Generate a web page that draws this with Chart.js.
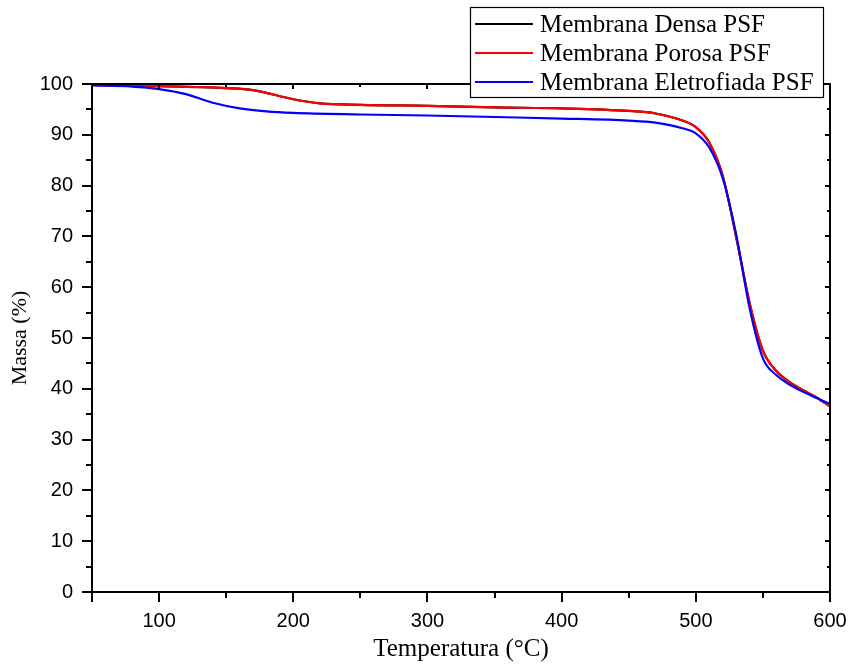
<!DOCTYPE html>
<html>
<head>
<meta charset="utf-8">
<script src="https://cdn.jsdelivr.net/npm/chart.js@4/dist/chart.umd.min.js"></script>
<style>
  html, body { margin: 0; padding: 0; background: #fff; }
  #wrap { width: 851px; height: 664px; position: relative; }
</style>
</head>
<body>
<div id="wrap"><canvas id="myChart" width="851" height="664"></canvas></div>
<script>
// series (temperature in °C, mass in %)
const tempDensa = [50, 100, 150, 170, 200, 220, 250, 300, 350, 400, 450, 470, 490, 500, 510, 520, 530, 540, 550, 560, 570, 580, 590, 600];
const massaDensa = [99.8, 99.6, 99.2, 98.8, 97.0, 96.2, 95.9, 95.7, 95.4, 95.2, 94.7, 94.2, 92.8, 91.5, 88.5, 82.0, 70.0, 57.0, 47.5, 43.5, 41.3, 39.7, 38.3, 36.5];

const tempPorosa = [50, 100, 150, 170, 200, 220, 250, 300, 350, 400, 450, 470, 490, 500, 510, 520, 530, 540, 550, 560, 570, 580, 590, 600];
const massaPorosa = [99.8, 99.6, 99.2, 98.8, 97.0, 96.2, 95.9, 95.7, 95.4, 95.2, 94.7, 94.2, 92.8, 91.5, 88.5, 82.0, 70.0, 57.0, 47.5, 43.5, 41.3, 39.7, 38.3, 36.5];

const tempEletro = [50, 80, 100, 120, 140, 160, 180, 200, 250, 300, 350, 400, 450, 470, 490, 500, 510, 520, 530, 540, 550, 560, 570, 580, 590, 600];
const massaEletro = [99.7, 99.5, 99.0, 98.0, 96.3, 95.2, 94.6, 94.3, 94.0, 93.8, 93.5, 93.2, 92.8, 92.4, 91.3, 90.3, 87.5, 81.5, 70.5, 56.0, 46.0, 42.7, 40.8, 39.4, 38.2, 37.0];

const labels = ['Membrana Densa PSF', 'Membrana Porosa PSF', 'Membrana Eletrofiada PSF'];
const colors = ['#000000', '#ff0000', '#0000ff'];

const toPoints = (xs, ys) => xs.map((x, i) => ({ x, y: ys[i] }));

const frame = {
  id: 'frame',
  afterDatasetsDraw(chart) {
    const { ctx, chartArea: a, scales: { x, y } } = chart;
    ctx.save();
    ctx.strokeStyle = '#000';
    ctx.lineWidth = 2;
    ctx.strokeRect(a.left, a.top, a.right - a.left, a.bottom - a.top);
    ctx.beginPath();
    y.ticks.forEach(t => {
      const p = Math.round(y.getPixelForValue(t.value));
      const major = t.value % 10 === 0;
      ctx.moveTo(a.left, p); ctx.lineTo(a.left - (major ? 10 : 6), p);
      ctx.moveTo(a.right, p); ctx.lineTo(a.right - (major ? 5 : 3), p);
    });
    x.ticks.forEach(t => {
      const p = Math.round(x.getPixelForValue(t.value));
      const major = t.value % 100 === 0 || t.value === 50;
      ctx.moveTo(p, a.bottom); ctx.lineTo(p, a.bottom + (major ? 10 : 6));
      ctx.moveTo(p, a.top); ctx.lineTo(p, a.top + (major ? 5 : 3));
    });
    ctx.stroke();
    ctx.restore();
  },
  afterDraw(chart) {
    const { ctx } = chart;
    ctx.save();
    ctx.fillStyle = '#fff';
    ctx.fillRect(470, 7, 353, 90);
    ctx.strokeStyle = '#000';
    ctx.lineWidth = 1.2;
    ctx.strokeRect(470.5, 7.5, 353, 90);
    ctx.font = '25px "Liberation Serif", "Times New Roman", serif';
    ctx.textBaseline = 'middle';
    ctx.fillStyle = '#000';
    const rows = [24, 53, 82];
    // legend rows in drawing order of the labels array
    labels.forEach((lab, i) => {
      ctx.strokeStyle = colors[i];
      ctx.lineWidth = 2;
      ctx.beginPath();
      ctx.moveTo(475, rows[i]); ctx.lineTo(533, rows[i]);
      ctx.stroke();
      ctx.fillText(lab, 540, rows[i] + 1);
    });
    ctx.restore();
  }
};

new Chart(document.getElementById('myChart').getContext('2d'), {
  type: 'line',
  data: {
    datasets: [
      { label: labels[0], data: toPoints(tempDensa, massaDensa), borderColor: colors[0], order: 3 },
      { label: labels[1], data: toPoints(tempPorosa, massaPorosa), borderColor: colors[1], order: 2 },
      { label: labels[2], data: toPoints(tempEletro, massaEletro), borderColor: colors[2], order: 1 },
    ].map(d => ({ ...d, borderWidth: 2.2, pointRadius: 0, fill: false, cubicInterpolationMode: 'monotone' })),
  },
  options: {
    responsive: false,
    animation: false,
    layout: { padding: { left: 0, top: 84, right: 21, bottom: 0 } },
    plugins: { legend: { display: false }, tooltip: { enabled: false } },
    scales: {
      x: {
        type: 'linear',
        min: 50, max: 600,
        afterFit: s => { s.height = 72; s.paddingRight = 0; s.paddingLeft = 0; },
        afterBuildTicks: s => { s.ticks = []; for (let v = 50; v <= 600; v += 50) s.ticks.push({ value: v }); },
        grid: { display: false, drawTicks: false },
        border: { display: false },
        ticks: {
          autoSkip: false, maxRotation: 0, padding: 17, color: '#000',
          font: { family: '"Liberation Sans", Arial, sans-serif', size: 20 },
          callback: v => (v % 100 === 0 ? String(v) : ''),
        },
        title: {
          display: true, text: 'Temperatura (°C)', color: '#000', padding: { top: 0, bottom: 0 },
          font: { family: '"Liberation Serif", "Times New Roman", serif', size: 25 },
        },
      },
      y: {
        min: 0, max: 100,
        afterFit: s => { s.width = 92; s.paddingTop = 0; s.paddingBottom = 0; },
        afterBuildTicks: s => { s.ticks = []; for (let v = 0; v <= 100; v += 5) s.ticks.push({ value: v }); },
        grid: { display: false, drawTicks: false },
        border: { display: false },
        ticks: {
          autoSkip: false, padding: 19, color: '#000',
          font: { family: '"Liberation Sans", Arial, sans-serif', size: 20 },
          callback: v => (v % 10 === 0 ? String(v) : ''),
        },
        title: {
          display: true, text: 'Massa (%)', color: '#000', padding: { top: 7, bottom: 0 },
          font: { family: '"Liberation Serif", "Times New Roman", serif', size: 22 },
        },
      },
    },
  },
  plugins: [frame],
});
</script>
</body>
</html>
